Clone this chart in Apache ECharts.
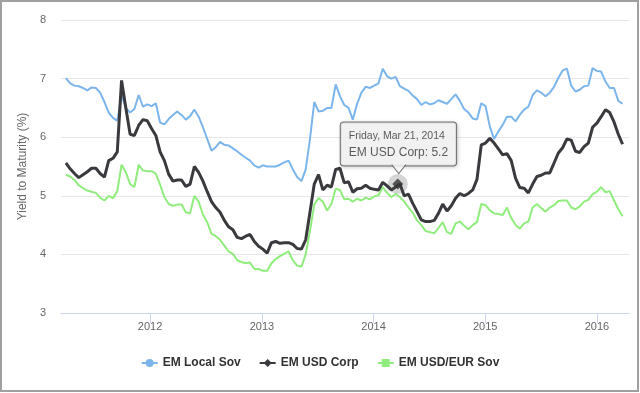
<!DOCTYPE html>
<html><head><meta charset="utf-8">
<script src="https://cdn.jsdelivr.net/npm/echarts@6/dist/echarts.min.js"></script>
<style>html,body{margin:0;padding:0;background:#fff}#c{width:640px;height:393px}</style>
</head><body><div id="c"></div>
<script>
const seriesNames = ['EM Local Sov', 'EM USD Corp', 'EM USD/EUR Sov'];
const startDate = '2011-04-01';
const stepDays = 14;
const localSov = [7.01,6.92,6.88,6.87,6.84,6.80,6.85,6.84,6.76,6.60,6.42,6.33,6.28,6.72,6.50,6.42,6.48,6.72,6.52,6.56,
6.53,6.58,6.25,6.22,6.31,6.38,6.44,6.38,6.30,6.36,6.47,6.35,6.17,5.97,5.77,5.83,5.92,5.87,5.86,5.81,
5.76,5.70,5.65,5.60,5.52,5.48,5.52,5.50,5.50,5.50,5.53,5.57,5.60,5.45,5.32,5.25,5.45,5.97,6.60,6.44,
6.45,6.50,6.50,6.90,6.70,6.55,6.50,6.30,6.57,6.76,6.86,6.84,6.88,6.92,7.17,7.04,7.00,7.03,6.87,6.83,
6.79,6.71,6.65,6.55,6.60,6.56,6.58,6.63,6.60,6.57,6.65,6.73,6.62,6.48,6.42,6.32,6.30,6.58,6.53,6.18,
5.97,6.10,6.21,6.35,6.35,6.27,6.38,6.47,6.52,6.72,6.80,6.76,6.70,6.76,6.86,7.01,7.14,7.17,6.88,6.78,
6.81,6.87,6.88,7.18,7.13,7.12,6.95,6.84,6.84,6.62,6.57];
const usdCorp = [5.56,5.46,5.38,5.31,5.36,5.41,5.47,5.47,5.38,5.32,5.60,5.64,5.75,6.97,6.50,6.05,6.03,6.20,6.30,6.28,
6.15,6.03,5.75,5.60,5.37,5.25,5.27,5.27,5.16,5.20,5.50,5.40,5.25,5.07,4.90,4.80,4.72,4.58,4.47,4.42,
4.29,4.27,4.31,4.34,4.22,4.14,4.09,4.02,4.20,4.22,4.19,4.20,4.20,4.17,4.10,4.09,4.25,4.72,5.20,5.36,
5.10,5.18,5.15,5.45,5.47,5.22,5.24,5.06,5.12,5.13,5.18,5.13,5.11,5.10,5.23,5.17,5.10,5.15,5.20,5.00,
5.03,4.87,4.73,4.59,4.56,4.56,4.58,4.70,4.86,4.74,4.83,4.96,5.04,5.00,5.04,5.10,5.28,5.87,5.90,5.98,
5.90,5.80,5.70,5.72,5.60,5.30,5.14,5.13,5.05,5.20,5.33,5.35,5.39,5.39,5.56,5.73,5.82,5.97,5.95,5.76,
5.74,5.84,5.90,6.17,6.24,6.35,6.47,6.42,6.26,6.05,5.88];
const usdEurSov = [5.36,5.33,5.27,5.18,5.13,5.09,5.07,5.05,4.97,4.92,5.00,4.96,5.08,5.53,5.40,5.20,5.15,5.53,5.43,5.42,
5.42,5.38,5.19,4.98,4.86,4.83,4.85,4.85,4.72,4.70,5.00,4.90,4.68,4.55,4.35,4.31,4.25,4.15,4.05,4.01,
3.90,3.87,3.85,3.86,3.75,3.75,3.72,3.72,3.85,3.92,3.97,4.01,4.05,3.90,3.81,3.79,4.00,4.40,4.85,4.96,
4.90,4.75,4.86,5.12,5.10,4.94,4.95,4.90,4.95,4.92,4.97,4.94,4.99,5.01,5.15,5.05,4.98,5.03,4.98,4.90,
4.80,4.71,4.58,4.50,4.40,4.38,4.36,4.45,4.55,4.38,4.35,4.53,4.56,4.49,4.43,4.50,4.55,4.86,4.84,4.75,
4.70,4.69,4.67,4.80,4.62,4.50,4.44,4.53,4.56,4.80,4.86,4.79,4.73,4.80,4.84,4.91,4.92,4.92,4.80,4.77,
4.82,4.90,4.93,5.03,5.07,5.15,5.06,5.08,4.92,4.77,4.65];
const yTicks = [3, 4, 5, 6, 7, 8];
const xRange = ['2011-03-16', '2016-04-15'];
const tipDate = '2014-03-21';
const tipValue = 5.2;
const tipHeader = 'Friday, Mar 21, 2014';
const tipSeries = 'EM USD Corp';

function buildDates(n) {
  const out = [];
  const [y, m, d] = startDate.split('-').map(Number);
  for (let i = 0; i < n; i++) {
    const dt = new Date(y, m - 1, d + i * stepDays);
    out.push(dt.getFullYear() + '-' + String(dt.getMonth() + 1).padStart(2, '0') + '-' + String(dt.getDate()).padStart(2, '0'));
  }
  return out;
}
const dates = buildDates(localSov.length);
const pair = arr => arr.map((v, i) => [dates[i], v]);

const FONT = '"Liberation Sans", Arial, sans-serif';
const chart = echarts.init(document.getElementById('c'), null, {renderer: 'canvas'});
const lineSeries = (name, arr, color, width, symbol, z) => ({
  name, type: 'line', data: pair(arr), showSymbol: false, symbol, symbolSize: 8,
  lineStyle: {width, color}, itemStyle: {color}, z, silent: true,
  emphasis: {disabled: true}
});
chart.setOption({
  animation: false,
  textStyle: {fontFamily: FONT},
  graphic: [{type: 'rect', silent: true, shape: {x: 1, y: 1, width: 637, height: 390},
    style: {fill: 'none', stroke: '#a0a0a0', lineWidth: 2}}],
  grid: {left: 61, right: 11, top: 20, bottom: 80},
  legend: {data: seriesNames, top: 352, left: 'center', itemGap: 18, itemWidth: 16, itemHeight: 10,
    textStyle: {fontSize: 12, fontWeight: 'bold', color: '#333', fontFamily: FONT}},
  xAxis: {type: 'time', min: xRange[0], max: xRange[1],
    minInterval: 365 * 864e5, maxInterval: 366 * 864e5,
    splitLine: {show: false},
    axisLine: {lineStyle: {color: '#ccd6eb'}},
    axisTick: {show: true, length: 10, lineStyle: {color: '#ccd6eb'}},
    axisLabel: {color: '#666', fontSize: 11, margin: 8, fontFamily: FONT,
      formatter: v => String(new Date(v).getFullYear()), showMinLabel: false, showMaxLabel: false}},
  yAxis: {type: 'value', min: yTicks[0], max: yTicks[yTicks.length - 1], interval: 1,
    name: 'Yield to Maturity (%)', nameLocation: 'middle', nameGap: 26,
    nameTextStyle: {color: '#666', fontSize: 12, fontFamily: FONT},
    axisLabel: {color: '#666', fontSize: 11, margin: 15, fontFamily: FONT},
    splitLine: {lineStyle: {color: '#e6e6e6'}},
    axisLine: {show: false}, axisTick: {show: false}},
  series: [
    lineSeries(seriesNames[0], localSov, '#7cb5ec', 2, 'circle', 2),
    lineSeries(seriesNames[2], usdEurSov, '#90ed7d', 2, 'rect', 2),
    lineSeries(seriesNames[1], usdCorp, '#3a3a3e', 3, 'diamond', 3),
    {type: 'scatter', name: '_halo', data: [[tipDate, tipValue]], symbol: 'circle', symbolSize: 20,
      itemStyle: {color: 'rgba(67,67,72,0.28)'}, z: 5, silent: true,
      label: {show: true, position: 'inside', offset: [-57, -40],
        formatter: '{h|' + tipHeader + '}\n{v|' + tipSeries + ': ' + tipValue + '}',
        backgroundColor: '#f7f7f7', borderColor: '#555', borderWidth: 1, borderRadius: 3,
        padding: [6, 8, 5, 8], shadowColor: 'rgba(0,0,0,0.2)', shadowBlur: 4, shadowOffsetX: 1, shadowOffsetY: 1,
        align: 'left',
        rich: {h: {fontSize: 10.5, color: '#333', lineHeight: 16, fontFamily: FONT},
               v: {fontSize: 12, color: '#333', lineHeight: 16, fontFamily: FONT}}}},
    {type: 'scatter', name: '_arrow', data: [[tipDate, tipValue]], symbol: 'path://M0,0L7,9L14,0',
      symbolSize: [14, 9], symbolOffset: [1, -15], z: 7, silent: true,
      itemStyle: {color: '#f7f7f7', borderColor: '#555', borderWidth: 1}},
    {type: 'scatter', name: '_marker', data: [[tipDate, tipValue]], symbol: 'diamond', symbolSize: 11,
      itemStyle: {color: '#333'}, z: 6, silent: true}
  ]
});
</script></body></html>
